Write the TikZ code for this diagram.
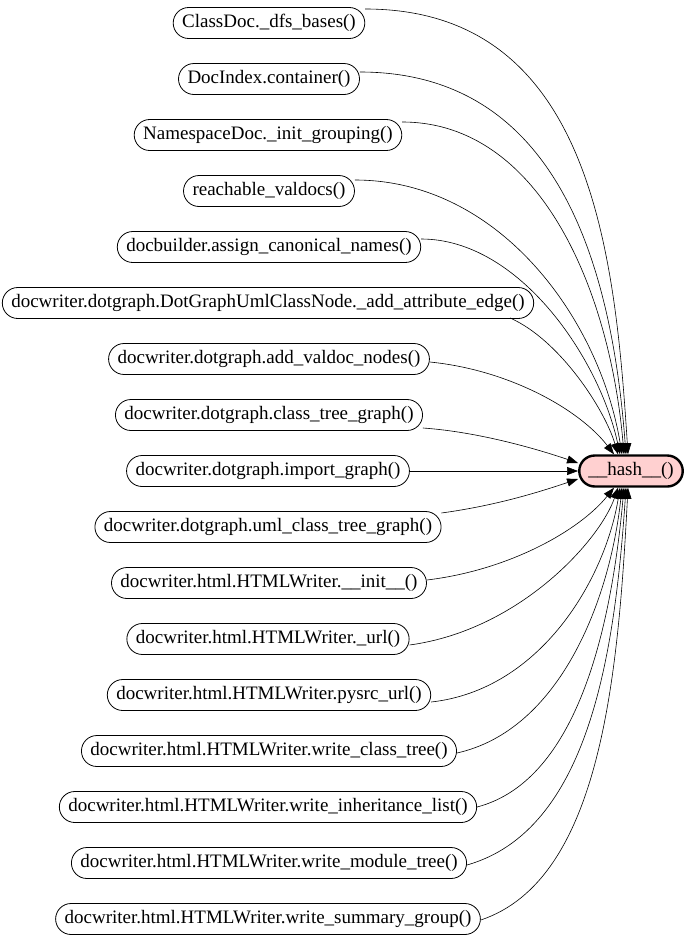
\documentclass[tikz,border=0pt]{standalone}
\usepackage{fontspec}
\setmainfont{Liberation Serif}
\usetikzlibrary{arrows.meta,calc}
\definecolor{hubpink}{HTML}{FFD0D0}
\begin{document}
\begin{tikzpicture}[x=1pt,y=-1pt,
  fn/.style={draw,rounded corners=15.5pt,minimum height=31pt,inner xsep=9pt,inner ysep=0pt,
             font=\fontsize{19}{21}\selectfont,line width=0.8pt},
  hub/.style={fn,fill=hubpink,line width=2.4pt},
  call/.style={-{Triangle[length=11pt,width=8pt]},line width=0.6pt}]
\useasboundingbox (0,0) rectangle (691,940);
\node[fn] (n1)  at (269,23)  {ClassDoc.\_dfs\_bases()};
\node[fn] (n2)  at (269,79)  {DocIndex.container()};
\node[fn] (n3)  at (268,135) {NamespaceDoc.\_init\_grouping()};
\node[fn] (n4)  at (269,191) {reachable\_valdocs()};
\node[fn] (n5)  at (269,247) {docbuilder.assign\_canonical\_names()};
\node[fn] (n6)  at (268,303) {docwriter.dotgraph.DotGraphUmlClassNode.\_add\_attribute\_edge()};
\node[fn] (n7)  at (269,359) {docwriter.dotgraph.add\_valdoc\_nodes()};
\node[fn] (n8)  at (269,415) {docwriter.dotgraph.class\_tree\_graph()};
\node[fn] (n9)  at (268,471) {docwriter.dotgraph.import\_graph()};
\node[fn] (n10) at (268,527) {docwriter.dotgraph.uml\_class\_tree\_graph()};
\node[fn] (n11) at (269,583) {docwriter.html.HTMLWriter.\_\_init\_\_()};
\node[fn] (n12) at (268,639) {docwriter.html.HTMLWriter.\_url()};
\node[fn] (n13) at (269,695) {docwriter.html.HTMLWriter.pysrc\_url()};
\node[fn] (n14) at (269,751) {docwriter.html.HTMLWriter.write\_class\_tree()};
\node[fn] (n15) at (268,807) {docwriter.html.HTMLWriter.write\_inheritance\_list()};
\node[fn] (n16) at (269,863) {docwriter.html.HTMLWriter.write\_module\_tree()};
\node[fn] (n17) at (268,919) {docwriter.html.HTMLWriter.write\_summary\_group()};
\node[hub] (h) at (631,471) {\_\_hash\_\_()};
% edges from above
\draw[call] ($(n1.east)+(0,-14)$)  .. controls (590,9)   and (615,250) .. ($(h.north)+(-3,0)$);
\draw[call] ($(n2.east)+(0,-7)$)   .. controls (560,72)  and (612,270) .. ($(h.north)+(-5,0)$);
\draw[call] ($(n3.east)+(0,-13)$)  .. controls (540,122) and (610,290) .. ($(h.north)+(-7,0)$);
\draw[call] ($(n4.east)+(0,-11)$)  .. controls (500,180) and (600,320) .. ($(h.north)+(-9,0)$);
\draw[call] ($(n5.east)+(0,-8)$)   .. controls (520,239) and (600,360) .. ($(h.north)+(-11,0)$);
\draw[call] ($(n6.east)+(-24,15)$) .. controls (560,340) and (605,410) .. ($(h.north)+(-13,0)$);
\draw[call] ($(n7.east)+(0,3)$)    .. controls (510,370) and (580,410) .. ($(h.north)+(-17,0)$);
\draw[call] ($(n8.east)+(0,13)$)   .. controls (480,432) and (540,450) .. ($(h.west)+(0,-8)$);
% straight
\draw[call] (n9.east) -- (h.west);
% edges from below
\draw[call] ($(n10.east)+(0,-14)$) .. controls (500,505) and (545,490) .. ($(h.west)+(0,8)$);
\draw[call] ($(n11.east)+(0,-3)$)  .. controls (510,570) and (580,530) .. ($(h.south)+(-17,0)$);
\draw[call] ($(n12.east)+(0,6)$)   .. controls (520,630) and (600,540) .. ($(h.south)+(-13,0)$);
\draw[call] ($(n13.east)+(0,7)$)   .. controls (540,690) and (605,580) .. ($(h.south)+(-11,0)$);
\draw[call] ($(n14.east)+(0,2)$)   .. controls (560,730) and (610,600) .. ($(h.south)+(-9,0)$);
\draw[call] ($(n15.east)+(0,0)$)   .. controls (580,780) and (612,620) .. ($(h.south)+(-7,0)$);
\draw[call] ($(n16.east)+(0,2)$)   .. controls (590,830) and (615,650) .. ($(h.south)+(-5,0)$);
\draw[call] ($(n17.east)+(0,1)$)   .. controls (600,880) and (618,680) .. ($(h.south)+(-3,0)$);
\end{tikzpicture}
\end{document}
